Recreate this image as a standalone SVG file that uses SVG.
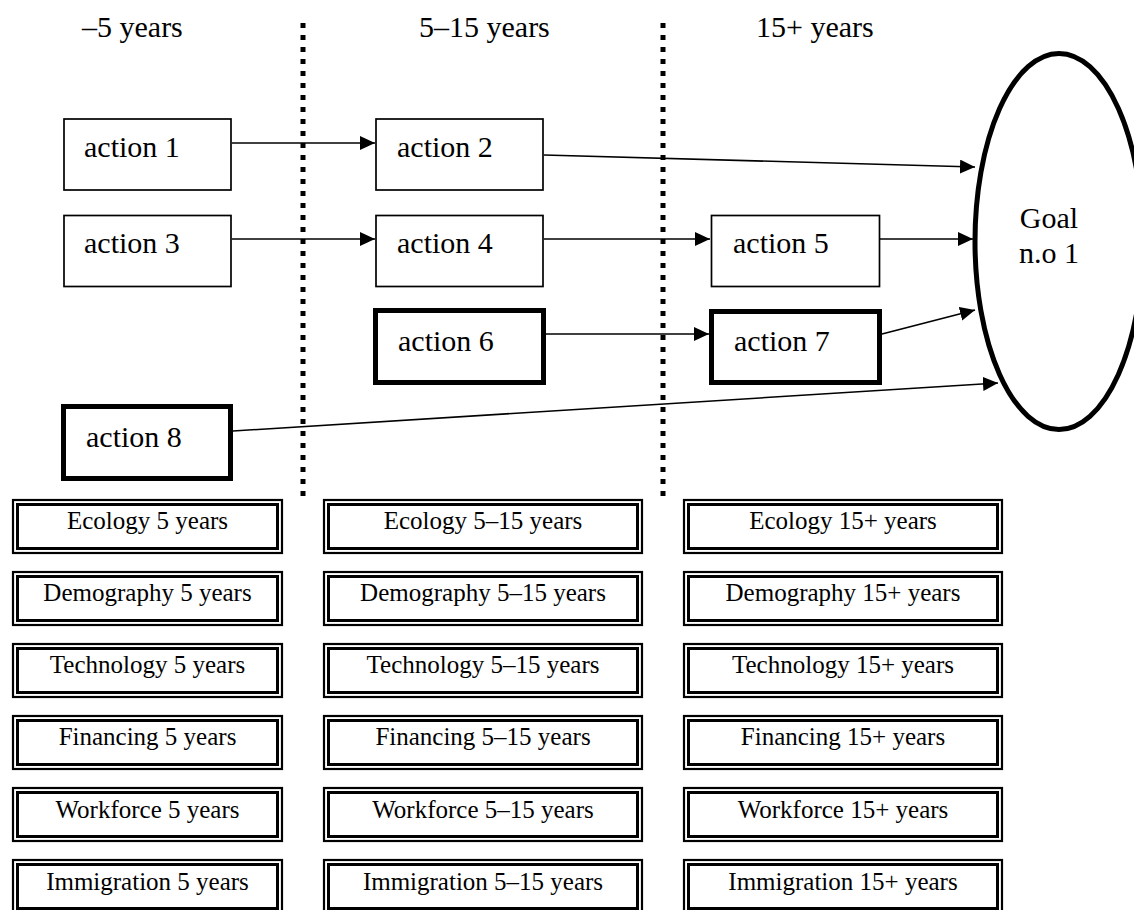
<svg xmlns="http://www.w3.org/2000/svg" width="1134" height="910" viewBox="0 0 1134 910">
<style>
.hdr,.act,.goal,.lbl{font-family:"Liberation Serif","Times New Roman",serif;fill:#000}
.hdr{font-size:30px}
.act{font-size:30px}
.goal{font-size:30px;text-anchor:middle}
.lbl{font-size:25px;text-anchor:middle}
.thin{fill:#fff;stroke:#000;stroke-width:1.7}
.thick{fill:#fff;stroke:#000;stroke-width:5}
.o{fill:#fff;stroke:#000;stroke-width:2.2}
.i{fill:none;stroke:#000;stroke-width:3}
.sep{stroke:#000;stroke-width:5;stroke-dasharray:5 7}
.con{stroke:#000;stroke-width:1.6;fill:none;marker-end:url(#ah)}
</style>
<defs>
<marker id="ah" markerUnits="userSpaceOnUse" markerWidth="16" markerHeight="15" refX="15" refY="7" orient="auto">
<path d="M0,0 L15,7 L0,14 z" fill="#000"/>
</marker>
</defs>
<rect width="1134" height="910" fill="#fff"/>
<g id="headers" font-family="Liberation Serif, serif">
<text class="hdr" x="82" y="37">–5 years</text>
<text class="hdr" x="419" y="37">5–15 years</text>
<text class="hdr" x="756" y="37">15+ years</text>
</g>
<g id="separators">
<line class="sep" x1="303" y1="23" x2="303" y2="497"/>
<line class="sep" x1="663" y1="23" x2="663" y2="497"/>
</g>
<g id="connectors">
<line class="con" x1="232" y1="143" x2="375" y2="143"/>
<line class="con" x1="232" y1="239" x2="375" y2="239"/>
<line class="con" x1="544" y1="155" x2="975" y2="167"/>
<line class="con" x1="544" y1="239" x2="710" y2="239"/>
<line class="con" x1="880" y1="239" x2="973" y2="239"/>
<line class="con" x1="546" y1="334" x2="709" y2="334"/>
<line class="con" x1="882" y1="334" x2="975" y2="310"/>
<line class="con" x1="233" y1="431" x2="998" y2="383"/>
</g>
<g id="actions" font-family="Liberation Serif, serif">
<g id="action1"><rect class="thin" x="64" y="119" width="167" height="71"/><text class="act" font-family="Liberation Serif, serif" x="84" y="157">action 1</text></g>
<g id="action2"><rect class="thin" x="376" y="119" width="167" height="71"/><text class="act" font-family="Liberation Serif, serif" x="397" y="157">action 2</text></g>
<g id="action3"><rect class="thin" x="64" y="215.5" width="167" height="71"/><text class="act" font-family="Liberation Serif, serif" x="84" y="253">action 3</text></g>
<g id="action4"><rect class="thin" x="376" y="215.5" width="167" height="71"/><text class="act" font-family="Liberation Serif, serif" x="397" y="253">action 4</text></g>
<g id="action5"><rect class="thin" x="711.5" y="215.5" width="168" height="71"/><text class="act" font-family="Liberation Serif, serif" x="733" y="253">action 5</text></g>
<g id="action6"><rect class="thick" x="375.5" y="310.5" width="168" height="72"/><text class="act" font-family="Liberation Serif, serif" x="398" y="351">action 6</text></g>
<g id="action7"><rect class="thick" x="711.5" y="311.5" width="168" height="71"/><text class="act" font-family="Liberation Serif, serif" x="734" y="351">action 7</text></g>
<g id="action8"><rect class="thick" x="63.5" y="406.5" width="167" height="72"/><text class="act" font-family="Liberation Serif, serif" x="86" y="447">action 8</text></g>
</g>
<g id="goal1">
<ellipse cx="1059" cy="241.5" rx="84" ry="188" fill="#fff" stroke="#000" stroke-width="5"/>
<text class="goal" x="1049" y="228">Goal</text>
<text class="goal" x="1049" y="263">n.o 1</text>
</g>
<g id="ecology-5"><rect class="o" x="13" y="500" width="269" height="53"/><rect class="i" x="17.5" y="504.5" width="260" height="44"/><text class="lbl" x="147.5" y="529">Ecology 5 years</text></g>
<g id="ecology-5-15"><rect class="o" x="324" y="500" width="318" height="53"/><rect class="i" x="328.5" y="504.5" width="309" height="44"/><text class="lbl" x="483" y="529">Ecology 5–15 years</text></g>
<g id="ecology-15"><rect class="o" x="684" y="500" width="318" height="53"/><rect class="i" x="688.5" y="504.5" width="309" height="44"/><text class="lbl" x="843" y="529">Ecology 15+ years</text></g>
<g id="demography-5"><rect class="o" x="13" y="572" width="269" height="53"/><rect class="i" x="17.5" y="576.5" width="260" height="44"/><text class="lbl" x="147.5" y="601">Demography 5 years</text></g>
<g id="demography-5-15"><rect class="o" x="324" y="572" width="318" height="53"/><rect class="i" x="328.5" y="576.5" width="309" height="44"/><text class="lbl" x="483" y="601">Demography 5–15 years</text></g>
<g id="demography-15"><rect class="o" x="684" y="572" width="318" height="53"/><rect class="i" x="688.5" y="576.5" width="309" height="44"/><text class="lbl" x="843" y="601">Demography 15+ years</text></g>
<g id="technology-5"><rect class="o" x="13" y="644" width="269" height="53"/><rect class="i" x="17.5" y="648.5" width="260" height="44"/><text class="lbl" x="147.5" y="673">Technology 5 years</text></g>
<g id="technology-5-15"><rect class="o" x="324" y="644" width="318" height="53"/><rect class="i" x="328.5" y="648.5" width="309" height="44"/><text class="lbl" x="483" y="673">Technology 5–15 years</text></g>
<g id="technology-15"><rect class="o" x="684" y="644" width="318" height="53"/><rect class="i" x="688.5" y="648.5" width="309" height="44"/><text class="lbl" x="843" y="673">Technology 15+ years</text></g>
<g id="financing-5"><rect class="o" x="13" y="716" width="269" height="53"/><rect class="i" x="17.5" y="720.5" width="260" height="44"/><text class="lbl" x="147.5" y="745">Financing 5 years</text></g>
<g id="financing-5-15"><rect class="o" x="324" y="716" width="318" height="53"/><rect class="i" x="328.5" y="720.5" width="309" height="44"/><text class="lbl" x="483" y="745">Financing 5–15 years</text></g>
<g id="financing-15"><rect class="o" x="684" y="716" width="318" height="53"/><rect class="i" x="688.5" y="720.5" width="309" height="44"/><text class="lbl" x="843" y="745">Financing 15+ years</text></g>
<g id="workforce-5"><rect class="o" x="13" y="788" width="269" height="53"/><rect class="i" x="17.5" y="792.5" width="260" height="44"/><text class="lbl" x="147.5" y="818">Workforce 5 years</text></g>
<g id="workforce-5-15"><rect class="o" x="324" y="788" width="318" height="53"/><rect class="i" x="328.5" y="792.5" width="309" height="44"/><text class="lbl" x="483" y="818">Workforce 5–15 years</text></g>
<g id="workforce-15"><rect class="o" x="684" y="788" width="318" height="53"/><rect class="i" x="688.5" y="792.5" width="309" height="44"/><text class="lbl" x="843" y="818">Workforce 15+ years</text></g>
<g id="immigration-5"><rect class="o" x="13" y="860" width="269" height="53"/><rect class="i" x="17.5" y="864.5" width="260" height="44"/><text class="lbl" x="147.5" y="890">Immigration 5 years</text></g>
<g id="immigration-5-15"><rect class="o" x="324" y="860" width="318" height="53"/><rect class="i" x="328.5" y="864.5" width="309" height="44"/><text class="lbl" x="483" y="890">Immigration 5–15 years</text></g>
<g id="immigration-15"><rect class="o" x="684" y="860" width="318" height="53"/><rect class="i" x="688.5" y="864.5" width="309" height="44"/><text class="lbl" x="843" y="890">Immigration 15+ years</text></g>
</svg>
